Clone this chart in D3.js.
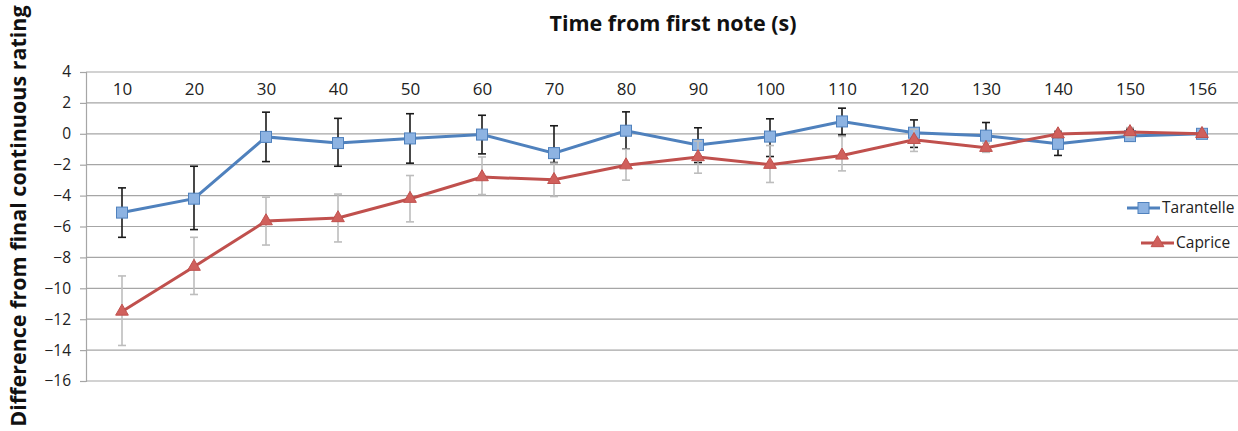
<!DOCTYPE html>
<html><head><meta charset="utf-8">
<script src="https://cdn.jsdelivr.net/npm/d3@7"></script>
<style>body{margin:0;background:#fff;} svg{display:block;font-family:"Open Sans",sans-serif;}</style>
</head><body>
<svg id="chart" width="1238" height="431"></svg>
<script>
const categories = ["10","20","30","40","50","60","70","80","90","100","110","120","130","140","150","156"];
const tarantelle = [-5.1,-4.2,-0.2,-0.6,-0.3,-0.05,-1.25,0.2,-0.72,-0.18,0.8,0.07,-0.12,-0.65,-0.15,0];
const tarantelleHi = [-3.5,-2.1,1.4,1.0,1.3,1.2,0.52,1.42,0.39,0.97,1.66,0.9,0.73,0.15,0.3,0];
const tarantelleLo = [-6.7,-6.2,-1.8,-2.1,-1.9,-1.3,-1.86,-0.99,-1.86,-1.47,-0.07,-0.88,-0.95,-1.4,-0.45,0];
const caprice = [-11.5,-8.6,-5.65,-5.45,-4.2,-2.8,-2.98,-2.03,-1.5,-2.0,-1.4,-0.39,-0.9,-0.02,0.12,0];
const capriceHi = [-9.2,-6.7,-4.1,-3.9,-2.7,-1.5,-1.9,-1.0,-0.47,-0.76,-0.17,0.3,-0.6,0.2,0.4,0];
const capriceLo = [-13.7,-10.4,-7.2,-7.0,-5.7,-3.93,-4.06,-3.0,-2.55,-3.15,-2.4,-1.14,-1.2,-0.25,-0.2,0];
const yTicks = [4,2,0,-2,-4,-6,-8,-10,-12,-14,-16];

const svg = d3.select("#chart");
const x = d3.scalePoint().domain(categories).range([86,1238]).padding(0.5);
const y = d3.scaleLinear().domain([-16,4]).range([381,72]);

// gridlines
svg.append("g").selectAll("line").data(yTicks).join("line")
  .attr("x1",86).attr("x2",1238).attr("y1",d=>y(d)).attr("y2",d=>y(d))
  .attr("stroke","#a6a6a6").attr("stroke-width",1.2);

// y axis
const yAxis = d3.axisLeft(y).tickValues(yTicks).tickSize(6).tickPadding(9);
const ga = svg.append("g").attr("transform","translate(86,0)").call(yAxis);
ga.select(".domain").attr("stroke","#a6a6a6").attr("stroke-width",1.2);
ga.selectAll(".tick line").attr("stroke","#a6a6a6").attr("stroke-width",1.2);
ga.selectAll(".tick text").attr("font-size",15.5).attr("fill","#222").attr("font-family","'Open Sans',sans-serif");

// x axis labels at top
const xAxis = d3.axisTop(x).tickSize(0).tickPadding(0);
const gx = svg.append("g").attr("transform","translate(0,95)").call(xAxis);
gx.select(".domain").remove();
gx.selectAll(".tick text").attr("font-size",17).attr("fill","#222").attr("font-family","'Open Sans',sans-serif");

// titles
svg.append("text").attr("x",673).attr("y",31).attr("text-anchor","middle")
  .attr("font-size",21.5).attr("font-weight","bold").attr("fill","#111").text("Time from first note (s)");
svg.append("text").attr("transform","translate(26,216) rotate(-90)").attr("text-anchor","middle")
  .attr("font-size",21.5).attr("font-weight","bold").attr("fill","#111").text("Difference from final continuous rating");

function errorBars(vals, hi, lo, color, width){
  const g = svg.append("g").attr("stroke",color).attr("stroke-width",width);
  categories.forEach((c,i)=>{
    if (hi[i]===lo[i]) return;
    const cx = x(c);
    g.append("line").attr("x1",cx).attr("x2",cx).attr("y1",y(hi[i])).attr("y2",y(lo[i]));
    g.append("line").attr("x1",cx-4).attr("x2",cx+4).attr("y1",y(hi[i])).attr("y2",y(hi[i]));
    g.append("line").attr("x1",cx-4).attr("x2",cx+4).attr("y1",y(lo[i])).attr("y2",y(lo[i]));
  });
}
const line = d3.line().x((d,i)=>x(categories[i])).y(d=>y(d));

// Tarantelle
errorBars(tarantelle, tarantelleHi, tarantelleLo, "#1a1a1a", 1.6);
svg.append("path").datum(tarantelle).attr("d",line).attr("fill","none").attr("stroke","#4f81bd").attr("stroke-width",3);
svg.append("g").selectAll("rect").data(tarantelle).join("rect")
  .attr("x",(d,i)=>x(categories[i])-5.5).attr("y",d=>y(d)-5.5).attr("width",11).attr("height",11)
  .attr("fill","#8db3e2").attr("stroke","#4f81bd").attr("stroke-width",1);

// Caprice
errorBars(caprice, capriceHi, capriceLo, "#bdbdbd", 1.6);
svg.append("path").datum(caprice).attr("d",line).attr("fill","none").attr("stroke","#c0504d").attr("stroke-width",3);
const tri = d3.symbol().type(d3.symbolTriangle).size(70);
svg.append("g").selectAll("path").data(caprice).join("path")
  .attr("d",tri).attr("transform",(d,i)=>`translate(${x(categories[i])},${y(d)})`)
  .attr("fill","#d0605c").attr("stroke","#c0504d").attr("stroke-width",1);

// legend
const leg = svg.append("g");
leg.append("line").attr("x1",1127).attr("x2",1160).attr("y1",208).attr("y2",208).attr("stroke","#4f81bd").attr("stroke-width",3);
leg.append("rect").attr("x",1138).attr("y",202.5).attr("width",11).attr("height",11).attr("fill","#8db3e2").attr("stroke","#4f81bd");
leg.append("text").attr("x",1162).attr("y",208).attr("dy","0.35em").attr("font-size",15.5).attr("fill","#222").text("Tarantelle");
leg.append("line").attr("x1",1141).attr("x2",1174).attr("y1",243).attr("y2",243).attr("stroke","#c0504d").attr("stroke-width",3);
leg.append("path").attr("d",tri).attr("transform","translate(1157.5,243)").attr("fill","#d0605c").attr("stroke","#c0504d");
leg.append("text").attr("x",1176).attr("y",243).attr("dy","0.35em").attr("font-size",15.5).attr("fill","#222").text("Caprice");
</script>
</body></html>
